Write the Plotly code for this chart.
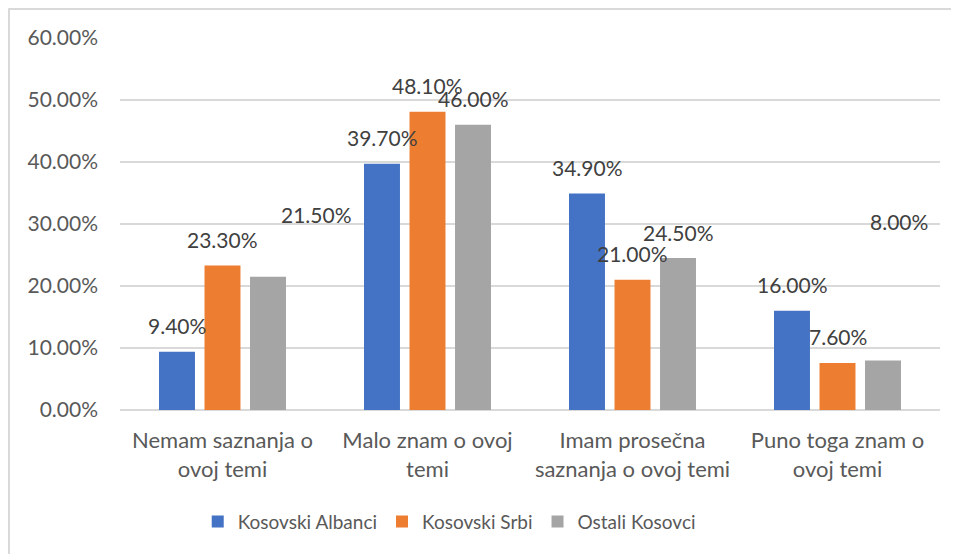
import plotly.graph_objects as go

categories = ["Nemam saznanja o<br>ovoj temi", "Malo znam o ovoj<br>temi",
              "Imam prosečna<br>saznanja o ovoj temi", "Puno toga znam o<br>ovoj temi"]
series_names = ["Kosovski Albanci", "Kosovski Srbi", "Ostali Kosovci"]
albanci = [0.094, 0.397, 0.349, 0.160]
srbi = [0.233, 0.481, 0.210, 0.076]
ostali = [0.215, 0.460, 0.245, 0.080]
tick_vals = [0, 0.1, 0.2, 0.3, 0.4, 0.5, 0.6]

colors = ["#4472C4", "#ED7D31", "#A5A5A5"]
FONT = "Lato"
TXT = "#595959"

fig = go.Figure()
all_series = [albanci, srbi, ostali]
for name, vals, col in zip(series_names, all_series, colors):
    fig.add_trace(go.Bar(name=name, x=categories, y=vals, marker_color=col,
                         marker_line_width=0, hoverinfo="skip"))

# data labels (some displaced as in the original)
slot_px = 45.5
extra = {(2, 0): (48, 36), (2, 3): (16, 113)}  # (series, category): (dx, dy) px
for si, vals in enumerate(all_series):
    for ci, v in enumerate(vals):
        dx, dy = extra.get((si, ci), (0, 0))
        fig.add_annotation(x=categories[ci], y=v, text=f"{v:.2%}", showarrow=False,
                           xshift=(si - 1) * slot_px + dx, yshift=26 + dy,
                           font=dict(family=FONT, size=21, color="#404040"),
                           xanchor="center", yanchor="middle")

# chart border (left and top edges)
fig.add_shape(type="line", xref="paper", yref="paper", x0=-0.1354, x1=-0.1354, y0=-0.39, y1=1.08,
              line=dict(color="#d9d9d9", width=2))
fig.add_shape(type="line", xref="paper", yref="paper", x0=-0.1354, x1=1.05, y0=1.078, y1=1.078,
              line=dict(color="#d9d9d9", width=2))

fig.update_layout(
    width=951, height=546,
    margin=dict(l=112, r=19, t=30, b=144),
    paper_bgcolor="white", plot_bgcolor="white",
    barmode="group", bargap=0.334, bargroupgap=0.21,
    font=dict(family=FONT, size=20, color=TXT),
    showlegend=True,
    legend=dict(orientation="h", x=0.4015, xanchor="center", y=-0.30, yanchor="middle",
                font=dict(family=FONT, size=19, color=TXT), itemwidth=30,
                tracegroupgap=0),
    xaxis=dict(showgrid=False, showline=False, ticks="", tickfont=dict(size=22, color=TXT),
               ticklabelstandoff=15),
    yaxis=dict(range=[0, 0.6], tickvals=tick_vals, tickformat=".2%",
               showgrid=True, gridcolor="#d9d9d9", gridwidth=1.5,
               zeroline=True, zerolinecolor="#d9d9d9", zerolinewidth=1.5,
               showline=False, ticks="", ticklabelstandoff=21,
               tickfont=dict(size=21, color=TXT)),
)

fig.write_html("out.html")
